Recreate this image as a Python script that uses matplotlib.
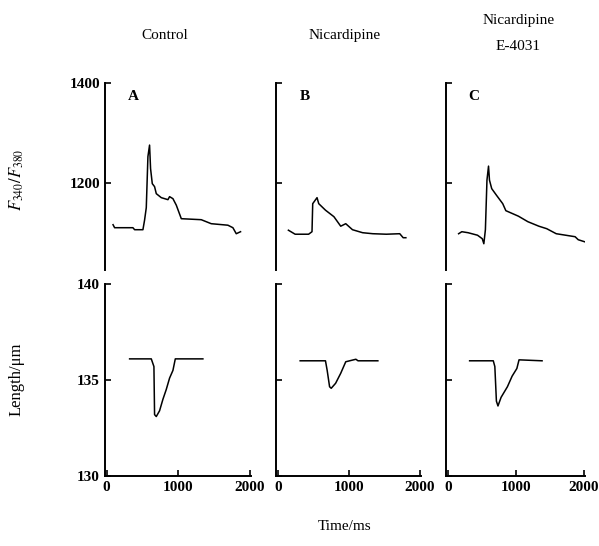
import matplotlib.pyplot as plt

plt.rcParams['font.family'] = ['Liberation Serif', 'DejaVu Serif']
plt.rcParams['mathtext.fontset'] = 'stix'

# F340/F380 traces (time in ms)
t_ctrl = [90, 112, 368, 392, 508, 531, 555, 578, 601, 615, 639, 671, 695, 765, 858, 881, 928, 975,
          1045, 1324, 1464, 1697, 1767, 1814, 1874]
f_ctrl = [1117, 1111, 1111, 1107, 1107, 1126, 1151, 1253, 1276, 1229, 1199, 1193, 1179, 1171, 1167,
          1173, 1169, 1156, 1129, 1127, 1119, 1116, 1111, 1099, 1103]

t_nic = [148, 243, 433, 481, 491, 552, 576, 671, 790, 886, 957, 1052, 1195, 1338, 1529, 1719, 1767, 1805]
f_nic = [1106, 1098, 1098, 1103, 1159, 1171, 1159, 1146, 1133, 1114, 1119, 1107, 1101, 1099, 1098,
         1099, 1091, 1091]

t_e4031 = [157, 204, 296, 435, 505, 528, 551, 574, 597, 611, 644, 713, 806, 852, 1037, 1176, 1338,
           1454, 1593, 1871, 1917, 2010]
f_e4031 = [1099, 1103, 1101, 1096, 1089, 1079, 1107, 1206, 1234, 1206, 1189, 1176, 1159, 1145, 1134,
           1123, 1114, 1109, 1099, 1093, 1087, 1083]

# cell length traces (um)
tl_ctrl = [322, 625, 662, 671, 695, 741, 788, 834, 881, 928, 961, 1347]
l_ctrl = [136.1, 136.1, 135.7, 133.2, 133.1, 133.4, 134.0, 134.5, 135.1, 135.5, 136.1, 136.1]

tl_nic = [314, 671, 695, 729, 752, 814, 886, 957, 1100, 1130, 1410]
l_nic = [136.0, 136.0, 135.5, 134.65, 134.57, 134.83, 135.35, 135.95, 136.08, 136.0, 136.0]

tl_e4031 = [319, 667, 690, 713, 736, 782, 875, 944, 1014, 1046, 1385]
l_e4031 = [136.0, 136.0, 135.7, 133.9, 133.65, 134.1, 134.65, 135.2, 135.6, 136.05, 136.0]

titles = ['Control', 'Nicardipine', 'Nicardipine\n\nE-4031']
letters = ['A', 'B', 'C']
ratio_series = [(t_ctrl, f_ctrl), (t_nic, f_nic), (t_e4031, f_e4031)]
length_series = [(tl_ctrl, l_ctrl), (tl_nic, l_nic), (tl_e4031, l_e4031)]

fig = plt.figure(figsize=(5.99, 5.46), dpi=100)
lefts = [0.175, 0.461, 0.745]
widths = [0.244, 0.242, 0.232]

for i in range(3):
    # top row: fluorescence ratio
    ax = fig.add_axes([lefts[i], 0.505, widths[i], 0.343])
    ax.plot(*ratio_series[i], color='black', lw=1.1)
    ax.set_xlim(-25, 2020)
    ax.set_ylim(1026, 1400)
    for s in ['top', 'right', 'bottom']:
        ax.spines[s].set_visible(False)
    ax.spines['left'].set_linewidth(1.4)
    ax.set_xticks([])
    ax.set_yticks([1400, 1200])
    ax.tick_params(axis='y', direction='in', length=4, width=1.2, labelsize=11)
    if i == 0:
        ax.set_yticklabels(['1400', '1200'], fontweight='bold')
    else:
        ax.set_yticklabels([])
    ax.text(0.16, 0.93, letters[i], transform=ax.transAxes, fontsize=11,
            fontweight='bold', ha='left', va='center')

    # bottom row: cell length
    bx = fig.add_axes([lefts[i], 0.128, widths[i], 0.352])
    bx.plot(*length_series[i], color='black', lw=1.1)
    bx.set_xlim(-25, 2020)
    bx.set_ylim(130, 140)
    for s in ['top', 'right']:
        bx.spines[s].set_visible(False)
    bx.spines['left'].set_linewidth(1.4)
    bx.spines['bottom'].set_linewidth(1.4)
    bx.set_xticks([0, 1000, 2000])
    bx.set_xticklabels(['0', '1000', '2000'], fontweight='bold')
    bx.set_yticks([130, 135, 140])
    bx.tick_params(direction='in', length=4, width=1.2, labelsize=11)
    if i == 0:
        bx.set_yticklabels(['130', '135', '140'], fontweight='bold')
    else:
        bx.set_yticklabels([])

fig.text(0.028, 0.67, '$F_{340}/F_{380}$', rotation=90, ha='center', va='center', fontsize=12)
fig.text(0.028, 0.305, 'Length/μm', rotation=90, ha='center', va='center', fontsize=12)
fig.text(0.275, 0.935, titles[0], ha='center', va='center', fontsize=11)
fig.text(0.575, 0.935, titles[1], ha='center', va='center', fontsize=11)
fig.text(0.865, 0.938, titles[2], ha='center', va='center', fontsize=11, linespacing=1.0)
fig.text(0.576, 0.035, 'Time/ms', ha='center', va='center', fontsize=11)

fig.savefig('out.png', dpi=100)
